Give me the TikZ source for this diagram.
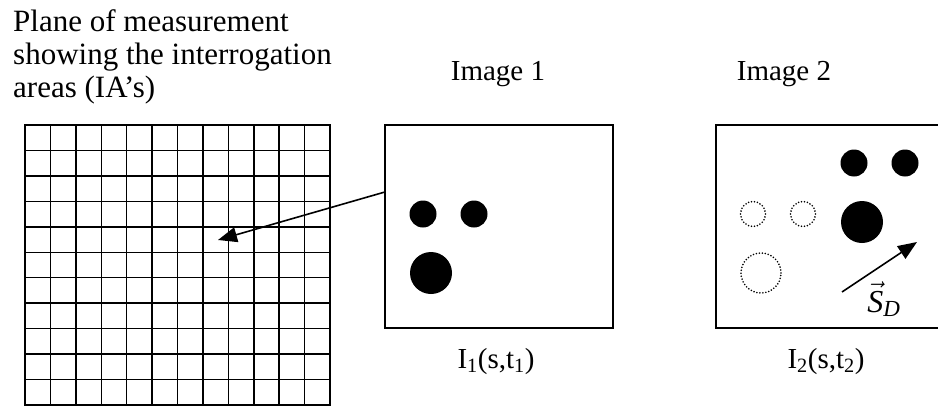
\RequirePackage{fix-cm}
\documentclass[tikz,border=0pt]{standalone}
\usepackage{fontspec}
\setmainfont{Liberation Serif}
\usetikzlibrary{arrows.meta}
\begin{document}
\begin{tikzpicture}[x=1pt,y=-1pt,
  lbl/.style={font=\fontsize{29}{33}\selectfont, inner sep=0pt},
  ttl/.style={font=\fontsize{31}{33}\selectfont, inner sep=0pt, anchor=base west},
  frame/.style={draw, line width=1.6pt, minimum width=228pt, minimum height=203pt, inner sep=0pt},
  plane/.style={draw, line width=1.6pt, minimum width=305pt, minimum height=280pt, inner sep=0pt},
  gridline/.style={line width=1.5pt},
  dot/.style={circle, fill, inner sep=0pt},
  ghost/.style={circle, draw, line width=1.8pt, line cap=round, dash pattern=on 0pt off 3pt, inner sep=0pt},
  arr/.style={line width=1.6pt, -{Triangle[length=19pt,width=15pt]}}]
\useasboundingbox (0,0) rectangle (938,407);
\clip (0,0) rectangle (938,407);
% title
\node[ttl] (t1) at (13,31) {Plane of measurement};
\node[ttl] (t2) at (13,64) {showing the interrogation};
\node[ttl] (t3) at (13,97) {areas (IA’s)};
% grid
\node[plane] (grid) at (177.5,265) {};
\foreach \i in {1,...,11} \draw[gridline] ({25+\i*305/12},125) -- ({25+\i*305/12},405);
\foreach \j in {1,...,10} \draw[gridline] (25,{125+\j*280/11}) -- (330,{125+\j*280/11});
% image frames
\node[frame] (box1) at (499,226.5) {};
\node[frame] (box2) at (830,226.5) {};
\node[lbl, anchor=base] (h1) at (498,80) {Image 1};
\node[lbl, anchor=base] (h2) at (784,80) {Image 2};
\node[lbl, anchor=base] (c1) at (496,368) {I\textsubscript{1}(s,t\textsubscript{1})};
\node[lbl, anchor=base] (c2) at (826,368) {I\textsubscript{2}(s,t\textsubscript{2})};
% particles image 1
\node[dot, minimum size=27pt] (p1) at (423,214) {};
\node[dot, minimum size=27pt] (p2) at (474,214) {};
\node[dot, minimum size=42pt] (p3) at (431,273) {};
% particles image 2
\node[dot, minimum size=27pt] (q1) at (854,163) {};
\node[dot, minimum size=27pt] (q2) at (905,163) {};
\node[dot, minimum size=42pt] (q3) at (862,222) {};
\node[ghost, minimum size=25pt] (g1) at (753,214) {};
\node[ghost, minimum size=25pt] (g2) at (803,214) {};
\node[ghost, minimum size=40pt] (g3) at (761,273) {};
% arrows
\coordinate (ia) at (218,240);
\draw[arr] ([yshift=-68pt]box1.north west) -- (ia);
\coordinate (sd0) at (842,292);
\coordinate (sd1) at (917,242);
\draw[arr] (sd0) -- (sd1);
\node[inner sep=0pt, anchor=base, font=\fontsize{32}{34}\selectfont] (sd) at (884,312) {$\vec{\mbox{\itshape S}}_{\mbox{\fontsize{23}{25}\selectfont\itshape D}}$};
\end{tikzpicture}
\end{document}
